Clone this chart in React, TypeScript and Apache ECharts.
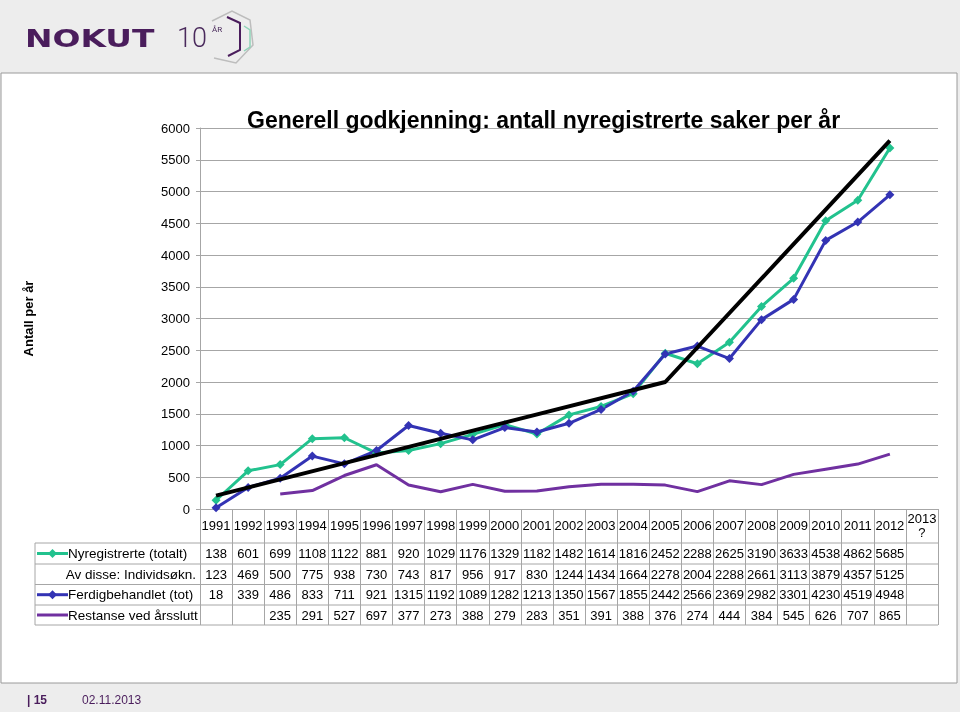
import React, { useEffect, useRef } from "react";
import * as echarts from "echarts";

const years = ["1991","1992","1993","1994","1995","1996","1997","1998","1999","2000","2001","2002","2003","2004","2005","2006","2007","2008","2009","2010","2011","2012","2013\n?"];
const nyregistrerte = [138,601,699,1108,1122,881,920,1029,1176,1329,1182,1482,1614,1816,2452,2288,2625,3190,3633,4538,4862,5685,null];
const individsokn = [123,469,500,775,938,730,743,817,956,917,830,1244,1434,1664,2278,2004,2288,2661,3113,3879,4357,5125,null];
const ferdigbehandlet = [18,339,486,833,711,921,1315,1192,1089,1282,1213,1350,1567,1855,2442,2566,2369,2982,3301,4230,4519,4948,null];
const restanse = [null,null,235,291,527,697,377,273,388,279,283,351,391,388,376,274,444,384,545,626,707,865,null];
const trend = [210,null,null,null,null,null,null,null,null,null,null,null,null,null,2000,null,null,null,null,null,null,5800,null];
const rowLabels = ["Nyregistrerte (totalt)","Av disse: Individsøkn.","Ferdigbehandlet (tot)","Restanse ved årsslutt"];
const title = "Generell godkjenning: antall nyregistrerte saker per år";
const yName = "Antall per år";

const FONT = "'Liberation Sans', Arial, sans-serif";
const GREEN = "#22C28E";
const BLUE = "#3333B4";
const PURPLE = "#7030A0";
const GRID = "#A6A6A6";

const rowCenters = [553.5, 574, 594.7, 615];
const rowLines = [543, 564, 584.5, 605, 625];

function cells(arr: (number | null)[]) {
  return arr.map((v) => (v == null ? "" : String(v)));
}

export default function App() {
  const ref = useRef<HTMLDivElement>(null);
  useEffect(() => {
    const chart = echarts.init(ref.current!, null, { renderer: "svg" });
    const tableRows = [nyregistrerte, individsokn, ferdigbehandlet, restanse];
    const rowAxes = tableRows.map((arr, i) => ({
      type: "category",
      gridIndex: 0,
      position: "bottom",
      offset: rowCenters[i] - 509,
      data: cells(arr),
      boundaryGap: true,
      axisLine: { show: false },
      axisTick: { show: false },
      splitLine: { show: false },
      axisLabel: { interval: 0, margin: 0, verticalAlign: "middle", fontSize: 13, color: "#000", fontFamily: FONT },
    }));

    const diamond = (cx: number, cy: number, color: string) => ({
      type: "polygon",
      shape: { points: [[cx, cy - 4.5], [cx + 4.5, cy], [cx, cy + 4.5], [cx - 4.5, cy]] },
      style: { fill: color },
    });

    const graphic: any[] = [
      { type: "rect", shape: { x: 0, y: 0, width: 960, height: 712 }, style: { fill: "#EDEDED" }, z: -10 },
      { type: "rect", shape: { x: 1, y: 73, width: 956, height: 610 }, style: { fill: "#fff", stroke: "#9A9A9A", lineWidth: 1 }, z: -9 },
      // logo
      { type: "text", x: 25, y: 27, scaleX: 1.37, style: { text: "NOKUT", font: "bold 24px 'DejaVu Sans'", fill: "#4A1D5C" } },
      { type: "text", x: 177, y: 24, style: { text: "10", font: "300 27px Roboto", fill: "#4A2A5C" } },
      { type: "text", x: 212, y: 25, style: { text: "ÅR", font: "8px Roboto", fill: "#4A2A5C" } },
      { type: "polyline", shape: { points: [[212, 21], [232, 11], [250, 20], [253, 45], [236, 63], [214, 58]] }, style: { stroke: "#BDBDBD", lineWidth: 1.5, fill: null } },
      { type: "polyline", shape: { points: [[227, 17], [240, 23], [240, 50], [228, 56]] }, style: { stroke: "#4A1D5C", lineWidth: 2, fill: null } },
      { type: "polyline", shape: { points: [[244, 26], [250, 30], [250, 47], [244, 51]] }, style: { stroke: "#8ED4B8", lineWidth: 1.5, fill: null } },
      // footer
      { type: "text", x: 27, y: 694, style: { text: "| 15", font: "bold 12px " + FONT, fill: "#4A1D5C" } },
      { type: "text", x: 82, y: 694, style: { text: "02.11.2013", font: "12px " + FONT, fill: "#4A1D5C" } },
      // table borders
      { type: "line", shape: { x1: 35, y1: 543, x2: 35, y2: 625 }, style: { stroke: GRID, lineWidth: 1 } },
      ...rowLines.map((y) => ({ type: "line", shape: { x1: 35, y1: y, x2: 938, y2: y }, style: { stroke: GRID, lineWidth: 1 } })),
      // legend keys
      { type: "line", shape: { x1: 37, y1: rowCenters[0], x2: 68, y2: rowCenters[0] }, style: { stroke: GREEN, lineWidth: 3 } },
      diamond(52.5, rowCenters[0], GREEN),
      { type: "line", shape: { x1: 37, y1: rowCenters[2], x2: 68, y2: rowCenters[2] }, style: { stroke: BLUE, lineWidth: 3 } },
      diamond(52.5, rowCenters[2], BLUE),
      { type: "line", shape: { x1: 37, y1: rowCenters[3], x2: 68, y2: rowCenters[3] }, style: { stroke: PURPLE, lineWidth: 3 } },
      { type: "text", x: 68, y: rowCenters[0], style: { text: rowLabels[0], font: "13.5px " + FONT, fill: "#000", verticalAlign: "middle" } },
      { type: "text", x: 196, y: rowCenters[1], style: { text: rowLabels[1], font: "13.5px " + FONT, fill: "#000", verticalAlign: "middle", align: "right" } },
      { type: "text", x: 68, y: rowCenters[2], style: { text: rowLabels[2], font: "13.5px " + FONT, fill: "#000", verticalAlign: "middle" } },
      { type: "text", x: 68, y: rowCenters[3], style: { text: rowLabels[3], font: "13.5px " + FONT, fill: "#000", verticalAlign: "middle" } },
    ];

    const lineBase = { type: "line", xAxisIndex: 0, yAxisIndex: 0, symbol: "diamond", symbolSize: 9 };

    chart.setOption({
      animation: false,
      textStyle: { fontFamily: FONT },
      title: {
        text: title,
        left: 247,
        top: 108,
        padding: 0,
        textStyle: { fontSize: 23, fontWeight: "bold", color: "#000", fontFamily: FONT },
      },
      grid: { left: 200, right: 22, top: 128, bottom: 203, containLabel: false },
      xAxis: [
        {
          type: "category",
          data: years,
          boundaryGap: true,
          axisLine: { show: true, lineStyle: { color: GRID, width: 1 } },
          axisTick: { show: true, length: 116, lineStyle: { color: GRID, width: 1 } },
          axisLabel: { interval: 0, margin: 16, verticalAlign: "middle", fontSize: 13, color: "#000", fontFamily: FONT, lineHeight: 14 },
          splitLine: { show: false },
        },
        ...rowAxes,
      ],
      yAxis: {
        type: "value",
        min: 0,
        max: 6000,
        interval: 500,
        name: yName,
        nameLocation: "middle",
        nameGap: 165,
        nameRotate: 90,
        nameTextStyle: { fontSize: 13, fontWeight: "bold", color: "#000", fontFamily: FONT },
        axisLine: { show: true, lineStyle: { color: GRID } },
        axisTick: { show: true, length: 4, lineStyle: { color: GRID } },
        axisLabel: { fontSize: 13, color: "#000", margin: 10, fontFamily: FONT, formatter: (v: number) => String(v) },
        splitLine: { show: true, lineStyle: { color: GRID, width: 1 } },
      },
      series: [
        { ...lineBase, name: rowLabels[0], data: nyregistrerte, lineStyle: { color: GREEN, width: 3 }, itemStyle: { color: GREEN } },
        { ...lineBase, name: rowLabels[2], data: ferdigbehandlet, lineStyle: { color: BLUE, width: 3 }, itemStyle: { color: BLUE } },
        { type: "line", name: rowLabels[3], data: restanse, showSymbol: false, symbol: "none", lineStyle: { color: PURPLE, width: 3 }, itemStyle: { color: PURPLE } },
        { type: "line", name: "Trend", data: trend, connectNulls: true, symbol: "none", lineStyle: { color: "#000", width: 4 }, z: 5 },
      ],
      graphic,
    });
    return () => chart.dispose();
  }, []);
  return <div ref={ref} style={{ position: "fixed", left: 0, top: 0, width: 960, height: 712 }} />;
}
